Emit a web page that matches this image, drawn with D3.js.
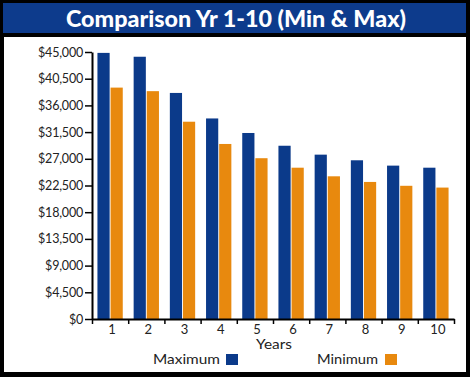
<!DOCTYPE html>
<html><head><meta charset="utf-8">
<script src="https://cdn.jsdelivr.net/npm/d3@7"></script>
<style>html,body{margin:0;padding:0;background:#000;}svg{display:block;}</style>
</head><body>
<script>
const years = ["1","2","3","4","5","6","7","8","9","10"];
const maximum = [44850, 44200, 38100, 33800, 31350, 29200, 27700, 26750, 25850, 25500];
const minimum = [39000, 38400, 33250, 29500, 27100, 25500, 24050, 23100, 22450, 22150];
const yTicks = [0, 4500, 9000, 13500, 18000, 22500, 27000, 31500, 36000, 40500, 45000];
const seriesNames = ["Maximum", "Minimum"];
const colors = ["#0B3A8A", "#E8890E"];

const W = 470, H = 377;
const svg = d3.select("body").append("svg").attr("width", W).attr("height", H);
svg.append("rect").attr("width", W).attr("height", H).attr("fill", "#000");
svg.append("rect").attr("x", 3).attr("y", 3).attr("width", 463).attr("height", 30).attr("fill", "#0D3B8C");
svg.append("rect").attr("x", 4).attr("y", 37).attr("width", 462).attr("height", 335).attr("fill", "#fff");
svg.append("text").attr("x", 236).attr("y", 27).attr("text-anchor", "middle")
  .attr("font-family", "Lato, 'Open Sans', sans-serif").attr("font-weight", 900)
  .attr("font-size", 23).attr("fill", "#fff")
  .attr("textLength", 340).attr("lengthAdjust", "spacingAndGlyphs")
  .text("Comparison Yr 1-10 (Min & Max)");

const x0 = d3.scaleBand().domain(years).range([92, 454]).paddingInner(0.25).paddingOuter(0.125);
const x1 = d3.scaleBand().domain(seriesNames).range([0, x0.bandwidth()]).padding(0.07);
const y = d3.scaleLinear().domain([0, 45000]).range([319, 52]);

const data = years.map((yr, i) => ({yr, vals: [maximum[i], minimum[i]]}));
const g = svg.append("g");
g.selectAll("g.grp").data(data).join("g").attr("transform", d => `translate(${x0(d.yr)},0)`)
  .selectAll("rect").data(d => d.vals.map((v, k) => ({v, k})))
  .join("rect")
  .attr("x", d => x1(seriesNames[d.k]))
  .attr("width", x1.bandwidth())
  .attr("y", d => y(d.v))
  .attr("height", d => y(0) - y(d.v))
  .attr("fill", d => colors[d.k]);

const fmt = d => "$" + d3.format(",")(d);
const yAxis = svg.append("g").attr("transform", "translate(92,0)")
  .call(d3.axisLeft(y).tickValues(yTicks).tickFormat(fmt).tickSize(7).tickSizeOuter(0));
yAxis.select(".domain").attr("stroke", "#000").attr("stroke-width", 2);
yAxis.selectAll(".tick line").attr("stroke", "#000").attr("stroke-width", 1.5);
yAxis.selectAll("text").attr("font-family", "Lato, sans-serif").attr("font-size", 12.5)
  .attr("fill", "#222").attr("x", -9).attr("letter-spacing", -0.2);

const xb = d3.scaleLinear().domain([0, 10]).range([92, 454]);
const xAxis = svg.append("g").attr("transform", "translate(0,319)")
  .call(d3.axisBottom(xb).tickValues(d3.range(0, 11)).tickFormat("").tickSize(5).tickSizeOuter(0));
xAxis.select(".domain").attr("stroke", "#000").attr("stroke-width", 2);
xAxis.selectAll(".tick line").attr("stroke", "#000").attr("stroke-width", 1.5);

svg.append("g").selectAll("text").data(years).join("text")
  .attr("x", d => x0(d) + x0.bandwidth() / 2 + 2).attr("y", 334)
  .attr("text-anchor", "middle").attr("font-family", "Lato, sans-serif").attr("font-size", 13)
  .attr("fill", "#222").text(d => d);

svg.append("text").attr("x", 274).attr("y", 349).attr("text-anchor", "middle")
  .attr("font-family", "Lato, sans-serif").attr("font-size", 13).attr("fill", "#222")
  .attr("textLength", 36).attr("lengthAdjust", "spacingAndGlyphs").text("Years");

const legendX = [[153, 226, 67], [317, 385, 61]];
seriesNames.forEach((n, k) => {
  svg.append("text").attr("x", legendX[k][0]).attr("y", 364)
    .attr("font-family", "Lato, sans-serif").attr("font-size", 13.5).attr("fill", "#222")
    .attr("textLength", legendX[k][2]).attr("lengthAdjust", "spacingAndGlyphs").text(n);
  svg.append("rect").attr("x", legendX[k][1]).attr("y", 354).attr("width", 12).attr("height", 11).attr("fill", colors[k]);
});
</script>
</body></html>
